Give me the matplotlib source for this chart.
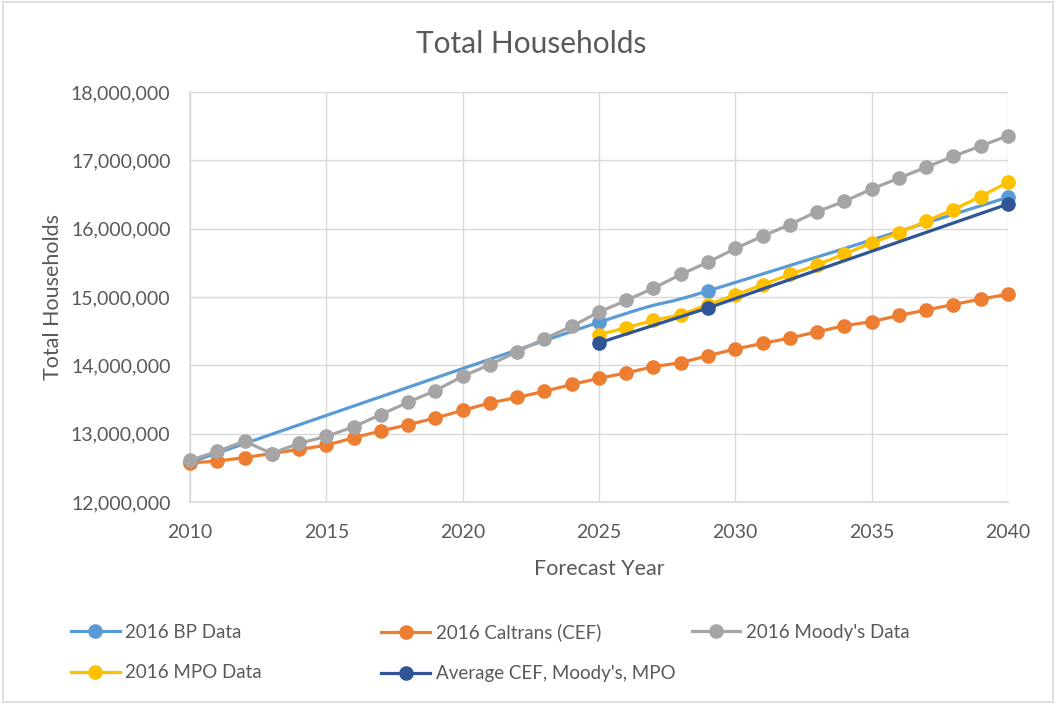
import numpy as np
import matplotlib
matplotlib.use("Agg")
import matplotlib.pyplot as plt
from matplotlib.patches import Rectangle
from matplotlib.lines import Line2D

plt.rcParams['font.family'] = ['Lato', 'DejaVu Sans']

years_all = list(range(2010, 2041))

bp_years = [2010, 2025, 2029, 2040]
bp_vals = [12.58e6, 14.63e6, 15.09e6, 16.46e6]

caltrans_vals = [12.57e6, 12.60e6, 12.65e6, 12.71e6, 12.77e6, 12.83e6, 12.94e6, 13.04e6,
                 13.13e6, 13.23e6, 13.34e6, 13.45e6, 13.53e6, 13.62e6, 13.72e6, 13.81e6,
                 13.89e6, 13.98e6, 14.04e6, 14.14e6, 14.24e6, 14.32e6, 14.40e6, 14.49e6,
                 14.58e6, 14.64e6, 14.73e6, 14.81e6, 14.89e6, 14.97e6, 15.04e6]

moodys_vals = [12.61e6, 12.74e6, 12.89e6, 12.71e6, 12.86e6, 12.96e6, 13.10e6, 13.28e6,
               13.46e6, 13.63e6, 13.84e6, 14.01e6, 14.20e6, 14.39e6, 14.57e6, 14.78e6,
               14.95e6, 15.13e6, 15.33e6, 15.51e6, 15.71e6, 15.89e6, 16.06e6, 16.25e6,
               16.40e6, 16.58e6, 16.74e6, 16.90e6, 17.06e6, 17.21e6, 17.36e6]

mpo_years = list(range(2025, 2041))
mpo_vals = [14.45e6, 14.55e6, 14.66e6, 14.74e6, 14.89e6, 15.03e6, 15.18e6, 15.33e6,
            15.47e6, 15.63e6, 15.79e6, 15.94e6, 16.11e6, 16.28e6, 16.47e6, 16.68e6]

avg_years = [2025, 2029, 2040]
avg_vals = [14.33e6, 14.84e6, 16.36e6]

labels = ["2016 BP Data", "2016 Caltrans (CEF)", "2016 Moody's Data",
          "2016 MPO Data", "Average CEF, Moody's, MPO"]
colors = ["#5B9BD5", "#ED7D31", "#A5A5A5", "#FFC000", "#2F5597"]

x_ticks = [2010, 2015, 2020, 2025, 2030, 2035, 2040]
y_ticks = [12e6, 13e6, 14e6, 15e6, 16e6, 17e6, 18e6]

TXT = "#595959"
GRID = "#D9D9D9"

fig = plt.figure(figsize=(10.56, 7.04), dpi=100)
fig.patches.append(Rectangle((0.003, 0.003), 0.994, 0.994, transform=fig.transFigure,
                             fill=False, edgecolor=GRID, linewidth=1.2))
ax = fig.add_axes([0.1799, 0.2869, 0.7746, 0.5824])

ax.set_xlim(2010, 2040)
ax.set_ylim(12e6, 18e6)
ax.set_xticks(x_ticks)
ax.set_yticks(y_ticks)
ax.set_xticklabels([str(v) for v in x_ticks])
ax.set_yticklabels([f"{int(v):,}" for v in y_ticks])
ax.tick_params(length=0, labelsize=14, colors=TXT)
ax.tick_params(axis='x', pad=16)
ax.tick_params(axis='y', pad=14)
ax.grid(True, color=GRID, linewidth=1.0)
ax.set_axisbelow(True)
for s in ["top", "right"]:
    ax.spines[s].set_visible(False)
for s in ["left", "bottom"]:
    ax.spines[s].set_color(GRID)
    ax.spines[s].set_linewidth(1.2)

fig.suptitle("Total Households", x=0.503, y=0.938, fontsize=21.5, color=TXT, va='center')
ax.set_xlabel("Forecast Year", fontsize=15.5, color=TXT, labelpad=13)
ax.set_ylabel("Total Households", fontsize=15.5, color=TXT, labelpad=5.5)

lw = 2.3
ms = 9.5

# Smoothed line for BP (Excel-style Catmull-Rom Bezier, computed in display space)
def smooth_curve(xs, ys, n=60):
    fig.canvas.draw()
    pts = ax.transData.transform(np.column_stack([xs, ys]))
    P = np.vstack([pts[0], pts, pts[-1]])
    out = []
    for i in range(1, len(P) - 2):
        p0, p1, p2, p3 = P[i - 1], P[i], P[i + 1], P[i + 2]
        c1 = p1 + (p2 - p0) / 6.0
        c2 = p2 - (p3 - p1) / 6.0
        t = np.linspace(0, 1, n)[:, None]
        seg = ((1 - t) ** 3) * p1 + 3 * ((1 - t) ** 2) * t * c1 + 3 * (1 - t) * t ** 2 * c2 + t ** 3 * p2
        out.append(seg if i == 1 else seg[1:])
    out = np.vstack(out)
    return ax.transData.inverted().transform(out)

sm = smooth_curve(bp_years, bp_vals)
ax.plot(sm[:, 0], sm[:, 1], color=colors[0], lw=lw, solid_capstyle='round', zorder=3, clip_on=False)
ax.plot(bp_years, bp_vals, 'o', color=colors[0], ms=ms, zorder=3, clip_on=False)

ax.plot(years_all, caltrans_vals, '-o', color=colors[1], lw=lw, ms=ms, zorder=4, clip_on=False)
ax.plot(years_all, moodys_vals, '-o', color=colors[2], lw=lw, ms=ms, zorder=5, clip_on=False)
ax.plot(mpo_years, mpo_vals, '-o', color=colors[3], lw=lw, ms=ms, zorder=6, clip_on=False)
ax.plot(avg_years, avg_vals, '-o', color=colors[4], lw=lw, ms=ms, zorder=7, clip_on=False)

# Legend: three columns placed like Excel (row-wise fill)
columns = [[0, 3], [1, 4], [2]]
col_x = [0.067, 0.361, 0.655]
for cx, idxs in zip(col_x, columns):
    hs = [Line2D([0], [0], color=colors[i], lw=lw, marker='o', ms=ms) for i in idxs]
    ls = [labels[i] for i in idxs]
    lg = fig.legend(hs, ls, loc='upper left', bbox_to_anchor=(cx, 0.114),
                    frameon=False, fontsize=13.5, labelcolor=TXT,
                    handlelength=2.6, handletextpad=0.3, labelspacing=1.25,
                    borderaxespad=0, borderpad=0)

fig.savefig("out.png", dpi=100)
